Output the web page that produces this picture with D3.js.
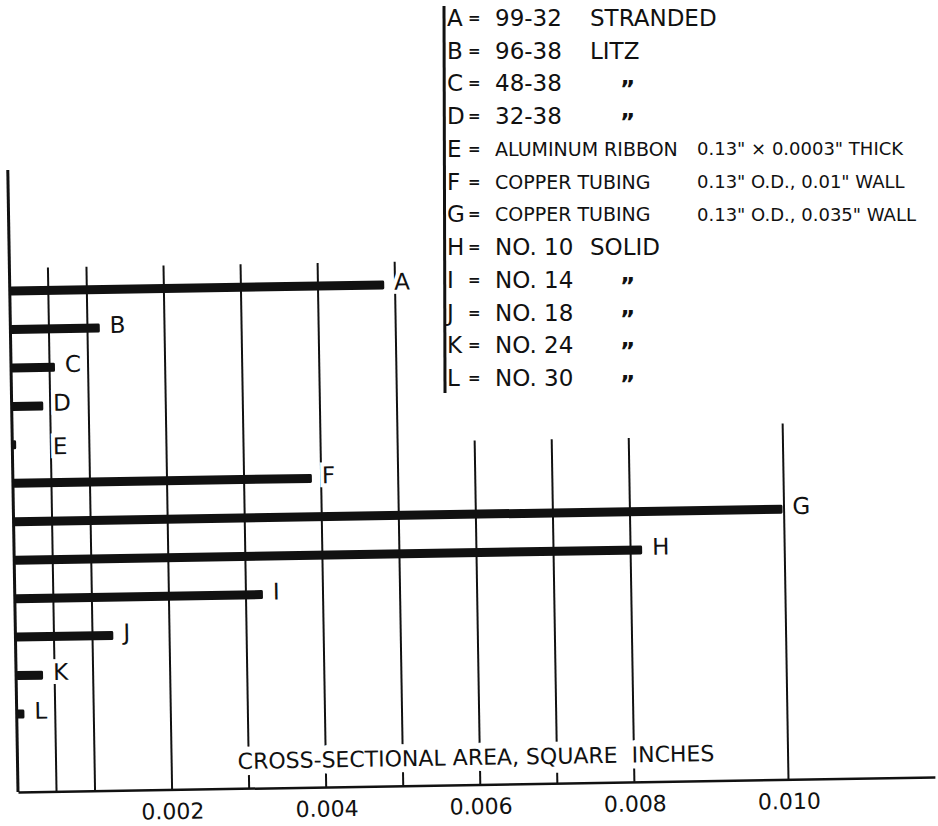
<!DOCTYPE html>
<html>
<head>
<meta charset="utf-8">
<script src="https://cdn.jsdelivr.net/npm/d3@7.9.0/dist/d3.min.js"></script>
<style>
  body { margin: 0; background: #fff; }
  svg { display: block; font-family: 'DejaVu Sans', sans-serif; }
  text { fill: #111; }
</style>
</head>
<body>
<svg id="chart" width="938" height="826"></svg>
<script>
const keys = ['A', 'B', 'C', 'D', 'E', 'F', 'G', 'H', 'I', 'J', 'K', 'L'];
// cross-sectional area in sq. inches
const areas = [0.00486, 0.00116, 0.00057, 0.00041, 0.00005, 0.00388, 0.00998, 0.00815, 0.00322, 0.00127, 0.00035, 0.0001];
const materials = ['99-32', '96-38', '48-38', '32-38', 'ALUMINUM RIBBON', 'COPPER TUBING', 'COPPER TUBING',
  'NO. 10', 'NO. 14', 'NO. 18', 'NO. 24', 'NO. 30'];
const details = ['STRANDED', 'LITZ', '\u201D', '\u201D', '0.13" \u00D7 0.0003" THICK', '0.13" O.D., 0.01" WALL',
  '0.13" O.D., 0.035" WALL', 'SOLID', '\u201D', '\u201D', '\u201D', '\u201D'];
const gridValues = [0.0005, 0.001, 0.002, 0.003, 0.004, 0.005, 0.006, 0.007, 0.008, 0.010];
const tickValues = [0.002, 0.004, 0.006, 0.008, 0.010];
const axisTitle = 'CROSS-SECTIONAL AREA, SQUARE  INCHES';

const data = keys.map((k, i) => ({ key: k, value: areas[i], material: materials[i], detail: details[i] }));

const svg = d3.select('#chart');
const baseY = 792;
const x = d3.scaleLinear().domain([0, 0.0119]).range([18, 935]);
const y = d3.scalePoint().domain(keys).range([291, 714]);

// the drawing sits a little crooked on the sheet
const plot = svg.append('g').attr('transform', `rotate(-0.94, ${x(0)}, ${baseY})`);

// grid lines: short ones stop under the legend, long ones stop at A
const gridTop = v => v <= 0.005 ? 268 : v < 0.01 ? 448 : 436;
plot.selectAll('line.grid')
  .data(gridValues)
  .join('line')
  .attr('class', 'grid')
  .attr('x1', d => x(d)).attr('x2', d => x(d))
  .attr('y1', d => gridTop(d)).attr('y2', baseY)
  .attr('stroke', '#111')
  .attr('stroke-width', 2);

// y axis
plot.append('line')
  .attr('x1', x(0)).attr('x2', x(0))
  .attr('y1', 170).attr('y2', baseY)
  .attr('stroke', '#111')
  .attr('stroke-width', 3);

// x axis with labels
const xAxis = plot.append('g')
  .attr('transform', `translate(0,${baseY})`)
  .call(d3.axisBottom(x)
    .tickValues(tickValues)
    .tickFormat(d3.format('.3f'))
    .tickSize(0)
    .tickPadding(14));
xAxis.select('.domain').attr('stroke', '#111').attr('stroke-width', 2.5);
xAxis.selectAll('text')
  .attr('font-size', 22)
  .attr('font-family', "'DejaVu Sans', sans-serif")
  .attr('fill', '#111');

// bars
plot.selectAll('rect.bar')
  .data(data)
  .join('rect')
  .attr('class', 'bar')
  .attr('x', x(0))
  .attr('y', d => y(d.key) - 4.5)
  .attr('width', d => x(d.value) - x(0))
  .attr('height', 9)
  .attr('rx', 1.5)
  .attr('fill', '#111');

// bar letters (E is too short, so its letter sits on the first grid line)
const labelX = d => d.key === 'E' ? x(0.0005) + 2 : x(d.value) + 10;
plot.selectAll('text.tag')
  .data(data)
  .join('text')
  .attr('class', 'tag')
  .attr('x', labelX)
  .attr('y', d => (d.key === 'E' ? y(d.key) + 2 : y(d.key) - 3))
  .attr('dominant-baseline', 'central')
  .attr('font-size', 23)
  .attr('stroke', '#fff')
  .attr('stroke-width', 8)
  .attr('paint-order', 'stroke')
  .text(d => d.key);

// axis title
plot.append('text')
  .attr('x', (x.range()[0] + x.range()[1]) / 2)
  .attr('y', 765)
  .attr('text-anchor', 'middle')
  .attr('dominant-baseline', 'central')
  .attr('font-size', 22)
  .attr('stroke', '#fff')
  .attr('stroke-width', 12)
  .attr('paint-order', 'stroke')
  .style('white-space', 'pre')
  .text(axisTitle);

// legend (lettered straight)
const ly = d3.scalePoint().domain(keys).range([18, 378]);
const legend = svg.append('g');
legend.append('line')
  .attr('x1', 444).attr('x2', 445)
  .attr('y1', 6).attr('y2', 393)
  .attr('stroke', '#111')
  .attr('stroke-width', 3);

const rows = legend.selectAll('g.row')
  .data(data)
  .join('g')
  .attr('class', 'row')
  .attr('transform', d => `translate(0,${ly(d.key)})`);

rows.append('text')
  .attr('x', 447)
  .attr('dominant-baseline', 'central')
  .attr('font-size', 23)
  .text(d => d.key);

rows.append('text')
  .attr('x', 468)
  .attr('dominant-baseline', 'central')
  .attr('font-size', 15)
  .attr('font-weight', 'bold')
  .text('=');

const isLong = d => d.material.length > 8;
rows.append('text')
  .attr('x', 495)
  .attr('dominant-baseline', 'central')
  .attr('font-size', d => isLong(d) ? 19 : 23)
  .text(d => d.material);

rows.append('text')
  .attr('x', d => d.detail === '\u201D' ? 620 : isLong(d) ? 697 : 590)
  .attr('y', d => d.detail === '\u201D' ? 6 : 0)
  .attr('dominant-baseline', 'central')
  .attr('font-size', d => isLong(d) ? 18 : 23)
  .attr('font-weight', d => d.detail === '\u201D' ? 'bold' : 'normal')
  .text(d => d.detail);
</script>
</body>
</html>
